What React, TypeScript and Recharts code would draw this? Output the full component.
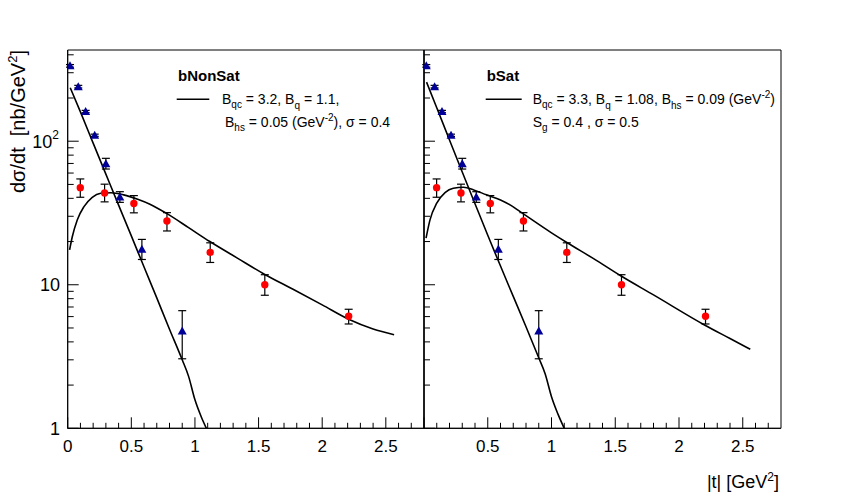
import React from "react";
import {
  ComposedChart,
  Line,
  Scatter,
  XAxis,
  YAxis,
  ErrorBar,
  ReferenceArea,
} from "recharts";

const FONT = '"Liberation Sans", Arial, sans-serif';

// axis ticks
const X_MAJOR = [0, 0.5, 1, 1.5, 2, 2.5];
const X_MINOR = [
  0.1, 0.2, 0.3, 0.4, 0.6, 0.7, 0.8, 0.9, 1.1, 1.2, 1.3, 1.4, 1.6, 1.7, 1.8,
  1.9, 2.1, 2.2, 2.3, 2.4, 2.6, 2.7,
];
const Y_MAJOR = [1, 10, 100];
const Y_MINOR = [2, 3, 4, 5, 6, 7, 8, 9, 20, 30, 40, 50, 60, 70, 80, 90, 200, 300, 400];
const X_TICKS = [...X_MAJOR, ...X_MINOR].sort((a, b) => a - b);
const Y_TICKS = [...Y_MAJOR, ...Y_MINOR].sort((a, b) => a - b);

// measured points, incoherent (red circles)
const incT = [0.099, 0.29, 0.52, 0.78, 1.12, 1.549, 2.208];
const incV = [47.5, 43.6, 36.8, 27.8, 16.8, 10.0, 6.03];
const incLo = [40.7, 37.8, 31.7, 23.7, 14.3, 8.45, 5.33];
const incHi = [54.6, 50.2, 41.8, 31.8, 19.6, 11.75, 6.75];

// measured points, coherent (blue triangles)
const cohT = [0.018, 0.083, 0.141, 0.212, 0.3, 0.41, 0.583, 0.9];
const cohV = [335, 240, 161, 110, 69.8, 40.9, 17.7, 4.77];
const cohLo = [328, 235, 158, 108, 64, 37.5, 15, 3.05];
const cohHi = [342, 245, 164, 112, 76, 44.5, 20.7, 6.6];

// bNonSat model curves
const nonSatCohT = [0.02, 0.1, 0.2, 0.3, 0.4, 0.5, 0.6, 0.7, 0.8, 0.9, 0.95, 1.0, 1.05, 1.09];
const nonSatCohV = [236, 160, 97, 59, 35.9, 21.9, 13.3, 8.1, 4.9, 3.0, 2.3, 1.58, 1.2, 1.0];
const nonSatIncT = [
  0.015, 0.036, 0.075, 0.128, 0.193, 0.26, 0.34, 0.44, 0.55, 0.646, 0.777,
  0.95, 1.117, 1.33, 1.549, 1.771, 2.0, 2.208, 2.4, 2.565,
];
const nonSatIncV = [
  17.5, 21.6, 28.3, 35, 40.7, 43.4, 43.8, 42.3, 39.4, 36.4, 31.4, 25.0, 20.0,
  15.4, 11.8, 9.3, 7.24, 5.75, 4.92, 4.49,
];

// bSat model curves
const satCohT = [0.02, 0.1, 0.2, 0.3, 0.4, 0.5, 0.6, 0.7, 0.8, 0.9, 0.95, 1.0, 1.05, 1.1];
const satCohV = [258, 171, 102, 61, 36.7, 22.1, 13.5, 8.3, 5.1, 3.1, 2.4, 1.66, 1.26, 1.0];
const satIncT = [
  0.016, 0.047, 0.1, 0.165, 0.23, 0.31, 0.39, 0.49, 0.6, 0.675, 0.754, 1.0,
  1.12, 1.33, 1.546, 1.8, 2.2, 2.4, 2.559,
];
const satIncV = [
  21.1, 28.3, 37, 43.8, 47, 47.8, 45.8, 42.3, 39.0, 36, 32.3, 23.0, 19.7, 15.2,
  11.5, 8.5, 5.25, 4.22, 3.55,
];

const toCurve = (ts: number[], vs: number[]) => ts.map((t, i) => ({ t, v: vs[i] }));
const toPoints = (ts: number[], vs: number[], lo: number[], hi: number[]) =>
  ts.map((t, i) => ({ t, v: vs[i], err: [vs[i] - lo[i], hi[i] - vs[i]] }));

const incPoints = toPoints(incT, incV, incLo, incHi);
const cohPoints = toPoints(cohT, cohV, cohLo, cohHi);

function XTick(props: any) {
  const { x, y, payload, hideZero } = props;
  const v = payload.value;
  const major = X_MAJOR.includes(v);
  return (
    <g>
      <line x1={x} x2={x} y1={y} y2={y - (major ? 11 : 5.5)} stroke="#000" strokeWidth={1} />
      {major && !(hideZero && v === 0) && (
        <text x={x} y={y + 23.4} textAnchor="middle" fontSize={17} fontFamily={FONT} fill="#000">
          {String(v)}
        </text>
      )}
    </g>
  );
}

function YTick(props: any) {
  const { x, y, payload, labels } = props;
  const v = payload.value;
  const major = Y_MAJOR.includes(v);
  return (
    <g>
      <line x1={x} x2={x + (major ? 11 : 6)} y1={y} y2={y} stroke="#000" strokeWidth={1} />
      {labels && major && (
        <text x={v === 100 ? 59 : 60} y={y + 6.5} textAnchor="end" fontSize={18} fontFamily={FONT} fill="#000">
          {v === 100 ? (
            <>
              10
              <tspan dy={-9} fontSize={12}>
                2
              </tspan>
            </>
          ) : (
            String(v)
          )}
        </text>
      )}
    </g>
  );
}

function Triangle(props: any) {
  const { cx, cy } = props;
  return (
    <polygon
      points={`${cx},${cy - 4.5} ${cx - 4.5},${cy + 3.5} ${cx + 4.5},${cy + 3.5}`}
      fill="#000099"
    />
  );
}

function Dot(props: any) {
  const { cx, cy } = props;
  return <circle cx={cx} cy={cy} r={3.7} fill="#ff0000" />;
}

// text made of pieces; shift > 0 lowers (subscript), < 0 raises (superscript)
type Piece = [string, number?];

function RichText(props: { x: number; y: number; pieces: Piece[] }) {
  let prev = 0;
  return (
    <text x={props.x} y={props.y} fontSize={14} style={{ whiteSpace: "pre" }}>
      {props.pieces.map(([s, shift = 0], i) => {
        const dy = shift - prev;
        prev = shift;
        return (
          <tspan key={i} dy={dy} fontSize={shift === 0 ? 14 : 10}>
            {s}
          </tspan>
        );
      })}
    </text>
  );
}

function Panel(props: {
  width: number;
  yWidth: number;
  labels: boolean;
  coh: { t: number; v: number }[];
  inc: { t: number; v: number }[];
}) {
  const { width, yWidth, labels, coh, inc } = props;
  return (
    <ComposedChart width={width} height={501} margin={{ top: 50, right: 2, bottom: 0, left: 0 }}>
      <XAxis
        type="number"
        dataKey="t"
        domain={[0, 2.8]}
        ticks={X_TICKS}
        interval={0}
        allowDataOverflow
        height={72.7}
        tickLine={false}
        tickSize={0}
        tickMargin={0}
        axisLine={{ stroke: "#000", strokeWidth: 1 }}
        tick={(p: any) => <XTick {...p} hideZero={!labels} />}
      />
      <YAxis
        type="number"
        scale="log"
        domain={[1, 432]}
        ticks={Y_TICKS}
        interval={0}
        allowDataOverflow
        width={yWidth}
        tickLine={false}
        tickSize={0}
        tickMargin={0}
        axisLine={{ stroke: "#000", strokeWidth: 1 }}
        tick={(p: any) => <YTick {...p} labels={labels} />}
      />
      <ReferenceArea x1={0} x2={2.8} y1={1} y2={432} fill="none" stroke="#000" strokeWidth={1} />
      <Line
        data={coh}
        dataKey="v"
        type="monotone"
        stroke="#000"
        strokeWidth={1.6}
        dot={false}
        isAnimationActive={false}
      />
      <Line
        data={inc}
        dataKey="v"
        type="monotone"
        stroke="#000"
        strokeWidth={1.6}
        dot={false}
        isAnimationActive={false}
      />
      <Scatter data={cohPoints} dataKey="v" shape={Triangle} isAnimationActive={false}>
        <ErrorBar dataKey="err" direction="y" width={4} stroke="#000" strokeWidth={1.2} />
      </Scatter>
      <Scatter data={incPoints} dataKey="v" shape={Dot} isAnimationActive={false}>
        <ErrorBar dataKey="err" direction="y" width={4} stroke="#000" strokeWidth={1.2} />
      </Scatter>
    </ComposedChart>
  );
}

export default function App() {
  return (
    <div style={{ position: "absolute", left: 0, top: 0, width: 847, height: 501, background: "#fff" }}>
      <div style={{ position: "absolute", left: 0, top: 0 }}>
        <Panel
          width={426}
          yWidth={67.7}
          labels={true}
          coh={toCurve(nonSatCohT, nonSatCohV)}
          inc={toCurve(nonSatIncT, nonSatIncV)}
        />
      </div>
      <div style={{ position: "absolute", left: 404, top: 0 }}>
        <Panel
          width={379}
          yWidth={20}
          labels={false}
          coh={toCurve(satCohT, satCohV)}
          inc={toCurve(satIncT, satIncV)}
        />
      </div>
      <svg
        width={847}
        height={501}
        style={{ position: "absolute", left: 0, top: 0, pointerEvents: "none" }}
        fontFamily={FONT}
      >
        <text
          transform="rotate(-90)"
          x={-50}
          y={25}
          textAnchor="end"
          fontSize={20}
          style={{ whiteSpace: "pre" }}
        >
          {"dσ/dt  [nb/GeV"}
          <tspan dy={-8} fontSize={13}>
            2
          </tspan>
          <tspan dy={8}>]</tspan>
        </text>
        <text x={779} y={488} textAnchor="end" fontSize={18}>
          {"|t| [GeV"}
          <tspan dy={-7} fontSize={12}>
            2
          </tspan>
          <tspan dy={7}>]</tspan>
        </text>

        <text x={178} y={80.7} fontSize={15} fontWeight="bold">
          bNonSat
        </text>
        <line x1={176.7} x2={209.3} y1={99.3} y2={99.3} stroke="#000" strokeWidth={1.5} />
        <RichText
          x={222}
          y={104}
          pieces={[["B"], ["qc", 4], [" = 3.2, B"], ["q", 5], [" = 1.1,"]]}
        />
        <RichText
          x={225}
          y={126.7}
          pieces={[["B"], ["hs", 4], [" = 0.05 (GeV"], ["-2", -6], ["), σ = 0.4"]]}
        />

        <text x={486.7} y={80.7} fontSize={15} fontWeight="bold">
          bSat
        </text>
        <line x1={485.7} x2={521.7} y1={99.3} y2={99.3} stroke="#000" strokeWidth={1.5} />
        <RichText
          x={532.7}
          y={104}
          pieces={[
            ["B"],
            ["qc", 4],
            [" = 3.3, B"],
            ["q", 5],
            [" = 1.08, B"],
            ["hs", 5],
            [" = 0.09 (GeV"],
            ["-2", -6],
            [")"],
          ]}
        />
        <RichText x={532.7} y={126.7} pieces={[["S"], ["g", 4], [" = 0.4 , σ = 0.5"]]} />
      </svg>
    </div>
  );
}
